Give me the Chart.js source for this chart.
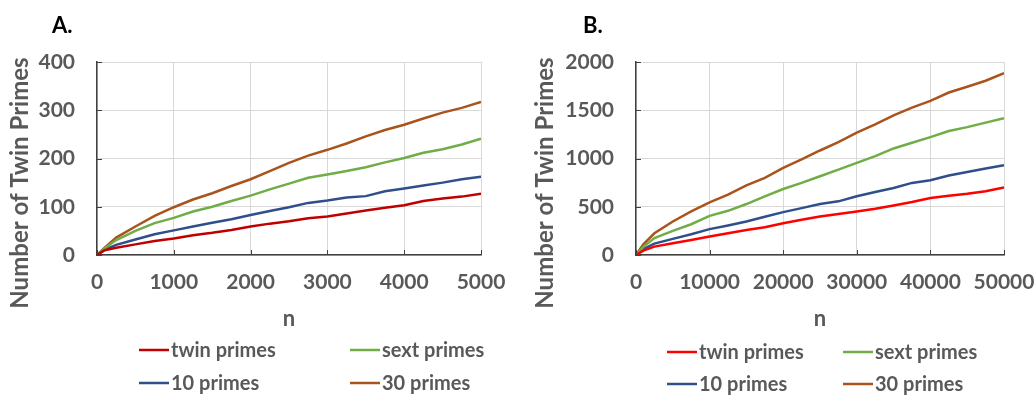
<!DOCTYPE html>
<html>
<head>
<meta charset="utf-8">
<script src="https://cdn.jsdelivr.net/npm/chart.js@4/dist/chart.umd.min.js"></script>
<style>
  body { margin: 0; background: #fff; }
  .panel { position: absolute; top: 0; width: 518px; height: 395px; }
</style>
</head>
<body>
<div class="panel" style="left:0"><canvas id="chartA" width="518" height="395"></canvas></div>
<div class="panel" style="left:518px"><canvas id="chartB" width="518" height="395"></canvas></div>
<script>
// panel A: n up to 5000
const nA = [0,100,250,500,750,1000,1250,1500,1750,2000,2250,2500,2750,3000,3250,3500,3750,4000,4250,4500,4750,5000];
const twinA = [0,10,15,22,29,34,41,46,52,59,65,70,76,80,86,92,98,103,112,117,121,127];
const sextA = [0,14,31,50,66,77,90,100,112,123,136,148,160,167,174,182,192,201,212,219,229,241];
const tenA = [0,11,21,32,43,51,59,67,74,83,91,99,108,113,119,122,132,138,144,150,157,162];
const thirtyA = [0,15,36,59,81,99,115,128,143,157,174,191,206,218,231,246,259,270,283,295,305,317];

// panel B: n up to 50000
const nB = [0,1000,2500,5000,7500,10000,12500,15000,17500,20000,22500,25000,27500,30000,32500,35000,37500,40000,42500,45000,47500,50000];
const twinB = [0,45,87,122,156,191,226,260,288,330,365,399,424,451,479,514,549,590,615,635,660,701];
const sextB = [0,85,175,250,319,405,458,528,608,684,747,816,885,955,1024,1104,1163,1222,1285,1325,1372,1417];
const tenB = [0,62,118,167,215,268,306,347,396,444,486,528,556,608,653,694,747,774,823,861,896,931];
const thirtyB = [0,111,225,347,451,545,625,722,799,903,990,1083,1170,1267,1354,1448,1528,1597,1684,1743,1806,1885];

const seriesNames = ['twin primes', 'sext primes', '10 primes', '30 primes'];
const yTitle = 'Number of Twin Primes';

const FONT = 'Lato, "Open Sans", sans-serif';
const GREY = '#595959';

function pts(xs, ys) {
  return xs.map((x, i) => ({x: x, y: ys[i]}));
}

// legend in a 2x2 grid, panel letter, y title and inward tick marks
const extras = {
  id: 'extras',
  afterDraw(chart) {
    const o = chart.options.plugins.extras;
    const ctx = chart.ctx;
    const area = chart.chartArea;
    ctx.save();
    ctx.strokeStyle = '#404040';
    ctx.lineWidth = 1;
    const xs = chart.scales.x, ys = chart.scales.y;
    ctx.beginPath();
    xs.ticks.forEach(t => {
      const px = Math.round(xs.getPixelForValue(t.value)) + 0.5;
      ctx.moveTo(px, area.bottom);
      ctx.lineTo(px, area.bottom - 5);
    });
    ys.ticks.forEach(t => {
      const py = Math.round(ys.getPixelForValue(t.value)) + 0.5;
      ctx.moveTo(area.left, py);
      ctx.lineTo(area.left + 5, py);
    });
    ctx.stroke();

    // panel letter
    ctx.fillStyle = '#000';
    ctx.font = 'bold 22px ' + FONT;
    ctx.textBaseline = 'alphabetic';
    ctx.textAlign = 'left';
    ctx.fillText(o.letter, o.letterX, 33);

    // y axis title
    ctx.save();
    ctx.translate(o.titleX, 183);
    ctx.rotate(-Math.PI / 2);
    ctx.fillStyle = GREY;
    ctx.font = 'bold 24px ' + FONT;
    ctx.textAlign = 'center';
    ctx.textBaseline = 'middle';
    ctx.fillText(yTitle, 0, 0);
    ctx.restore();

    // legend
    ctx.font = 'bold 20px ' + FONT;
    ctx.textBaseline = 'middle';
    chart.data.datasets.forEach((ds, i) => {
      const x = o.cols[i % 2];
      const y = o.rows[Math.floor(i / 2)];
      ctx.strokeStyle = ds.borderColor;
      ctx.lineWidth = 2.5;
      ctx.beginPath();
      ctx.moveTo(x, y);
      ctx.lineTo(x + 30, y);
      ctx.stroke();
      ctx.fillStyle = GREY;
      ctx.fillText(ds.label, x + 32, y + 1);
    });
    ctx.restore();
  }
};

function makePanel(id, xs, series, colors, xMax, xStep, yMax, yStep, yLeft, rightPad, legend) {
  const ctx = document.getElementById(id).getContext('2d');
  return new Chart(ctx, {
    type: 'line',
    data: {
      datasets: series.map((s, i) => ({
        label: seriesNames[i],
        data: pts(xs, s),
        borderColor: colors[i],
        borderWidth: 2.5,
        pointRadius: 0,
        tension: 0,
        fill: false
      }))
    },
    options: {
      responsive: false,
      animation: false,
      layout: { padding: { top: 62, right: rightPad, left: 0, bottom: 63 } },
      plugins: {
        legend: { display: false },
        tooltip: { enabled: false },
        extras: legend
      },
      scales: {
        x: {
          type: 'linear',
          min: 0, max: xMax,
          afterFit: s => { s.height = 77; s.paddingLeft = 0; s.paddingRight = 0; },
          grid: { color: '#d9d9d9', drawTicks: false },
          border: { color: '#404040', width: 1.5 },
          ticks: { stepSize: xStep, padding: 15, color: GREY, callback: v => String(v),
                   font: { family: FONT, size: 21, weight: 'bold' } },
          title: { display: true, text: 'n', color: GREY, padding: 0, font: { family: FONT, size: 22, weight: 'bold', lineHeight: 1.2 } }
        },
        y: {
          min: 0, max: yMax,
          afterFit: s => { s.width = yLeft; },
          grid: { color: '#d9d9d9', drawTicks: false },
          border: { color: '#404040', width: 1.5 },
          ticks: { stepSize: yStep, padding: 22, color: GREY, callback: v => String(v),
                   font: { family: FONT, size: 21, weight: 'bold' } }
        }
      }
    },
    plugins: [extras]
  });
}

makePanel('chartA', nA, [twinA, sextA, tenA, thirtyA],
  ['#c00000', '#70ad47', '#2f4f8a', '#a9541c'],
  5000, 1000, 400, 100, 97, 37,
  { letter: 'A.', letterX: 52, titleX: 20, cols: [139, 350], rows: [350, 383] });

makePanel('chartB', nB, [twinB, sextB, tenB, thirtyB],
  ['#ff0000', '#70ad47', '#2f4f8a', '#a9541c'],
  50000, 10000, 2000, 500, 118, 32,
  { letter: 'B.', letterX: 65, titleX: 27, cols: [149, 325], rows: [352, 384] });
</script>
</body>
</html>
